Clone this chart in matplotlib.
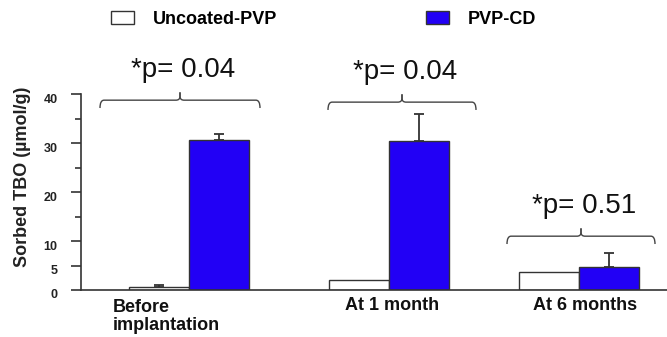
import numpy as np
import matplotlib.pyplot as plt
from matplotlib.path import Path
from matplotlib.patches import PathPatch
from matplotlib.transforms import ScaledTranslation

plt.rcParams['font.family'] = ['Liberation Sans', 'DejaVu Sans']

# data
groups = ['Before\nimplantation', 'At 1 month', 'At 6 months']
group_x = [0.0, 1.0, 1.95]
uncoated = [0.7, 2.0, 3.6]
uncoated_err = [0.3, 0.0, 0.0]
pvp_cd = [30.6, 30.4, 4.75]
pvp_cd_err = [1.3, 5.5, 2.9]
p_values = ['0.04', '0.04', '0.51']

# bracket layout (centre offset, half width, height) per group
br_offset = [-0.045, 0.065, 0.01]
br_half = [0.40, 0.37, 0.37]
br_y = [38.8, 38.4, 11.0]

blue = '#2200f5'
dark = '#333333'

fig = plt.figure(figsize=(6.67, 3.37), dpi=100)
ax = fig.add_axes([81/667, 47/337, 586/667, 195.7/337])

x = np.array(group_x)
w = 0.3
ekw = dict(fmt='none', ecolor=dark, elinewidth=1.3, capthick=1.3, capsize=3.5)
b1 = ax.bar(x - w/2, uncoated, w, color='white', edgecolor=dark, linewidth=1.0,
            label='Uncoated-PVP')
b2 = ax.bar(x + w/2, pvp_cd, w, color=blue, edgecolor=dark, linewidth=1.0,
            label='PVP-CD')
u = np.array(uncoated)
ue = np.array(uncoated_err)
m = ue > 0
ax.errorbar((x - w/2)[m], u[m], yerr=[np.zeros(m.sum()), ue[m]], **ekw)
ax.errorbar(x + w/2, pvp_cd, yerr=[np.zeros(3), pvp_cd_err], **ekw)

ax.set_xlim(-0.54, 2.39)
ax.set_ylim(0, 40)
for s in ['top', 'right']:
    ax.spines[s].set_visible(False)
for s in ['left', 'bottom']:
    ax.spines[s].set_color(dark)
    ax.spines[s].set_linewidth(1.2)

ax.set_xticks([])
ax.set_yticks([0, 5, 10, 20, 30, 40])
ax.set_yticks([15, 25, 35], minor=True)
ax.tick_params(axis='y', which='major', length=7, width=1.2, color=dark,
               pad=10, labelsize=9, labelcolor='#222222')
ax.tick_params(axis='y', which='minor', length=4, width=1.2, color=dark)
shift = ScaledTranslation(0, -4/100, fig.dpi_scale_trans)
for lab in ax.get_yticklabels():
    lab.set_fontweight('bold')
    lab.set_transform(lab.get_transform() + shift)

fig.text(23/667, 1 - 177/337, 'Sorbed TBO (\u00b5mol/g)', rotation=90,
         ha='center', va='center', fontsize=13, fontweight='bold', color='#222222')

# category labels under the axis
lab_dx = [-76, 3, 6]
for gx, name, dx in zip(group_x, groups, lab_dx):
    multi = '\n' in name
    ax.annotate(name, xy=(gx, 0), xycoords=('data', 'axes fraction'),
                xytext=(dx, -40 if multi else -20), textcoords='offset pixels',
                ha='left' if multi else 'center', va='baseline',
                fontsize=13, fontweight='bold', color='#111111', linespacing=1.08,
                annotation_clip=False)


def bracket(xc, half, y, drop=1.6, rise=1.6):
    rx, ry = 0.02, 0.8
    x0, x1 = xc - half, xc + half
    for a, sgn in [(x0, 1), (x1, -1)]:
        verts = [(a, y - drop), (a, y), (a + sgn*rx, y),
                 (xc - sgn*rx, y), (xc, y), (xc, y + min(ry, rise)), (xc, y + rise)]
        codes = [Path.MOVETO, Path.CURVE3, Path.CURVE3,
                 Path.LINETO, Path.CURVE3, Path.CURVE3, Path.LINETO]
        ax.add_patch(PathPatch(Path(verts, codes), fill=False, edgecolor='#444444',
                               linewidth=1.0, clip_on=False))


for gx, off, half, yb, p in zip(group_x, br_offset, br_half, br_y, p_values):
    xc = gx + off
    bracket(xc, half, yb)
    ax.text(xc + 0.015, yb + 4.7, '*p= ' + p, ha='center', va='baseline',
            fontsize=20, color='#111111', clip_on=False)

fig.legend(handles=[b1, b2], loc='center left', bbox_to_anchor=(102/667, 1 - 19/337),
           ncol=2, frameon=False, borderpad=0, handlelength=1.28, handleheight=0.72,
           handletextpad=1.05, columnspacing=8.2,
           prop={'size': 13, 'weight': 'bold'})

fig.savefig('out.png', dpi=100)
